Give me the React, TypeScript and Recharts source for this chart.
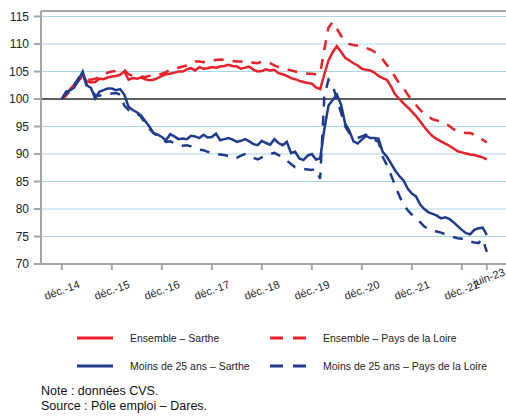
import * as React from "react";
import {
  LineChart,
  Line,
  XAxis,
  YAxis,
  CartesianGrid,
  ReferenceLine,
} from "recharts";

// indices 100 = déc. 2014, une valeur par mois (déc.-14 -> juin-23)
const ensembleSarthe = [
  100.0, 100.8, 101.8, 102.6, 103.5, 104.3, 103.2, 103.0, 103.1, 103.7, 103.6, 103.9,
  104.1, 104.2, 104.4, 105.0, 103.5, 103.8, 103.7, 103.9, 103.6, 103.4, 103.5, 103.8,
  104.2, 104.5, 104.6, 104.8, 105.0, 105.0, 105.4, 105.6, 105.2, 105.8, 105.5, 105.6,
  105.8, 105.7, 105.9, 106.0, 106.2, 106.0, 105.9, 105.5, 105.7, 105.9, 105.3, 105.0,
  105.1, 105.4, 105.2, 105.3, 104.7, 104.5, 104.2, 103.8, 103.6, 103.3, 103.1, 102.9,
  102.8, 102.1, 101.8, 104.5, 107.0, 108.5, 109.6, 108.6, 107.5, 107.0, 106.5, 106.1,
  105.5, 105.3, 105.2, 104.8, 104.2, 103.8, 103.5, 102.3, 100.8, 100.0, 99.2, 98.5,
  97.7, 96.9, 95.9, 94.9, 94.0, 93.2, 92.7, 92.3, 91.9, 91.5, 91.0, 90.5,
  90.3, 90.1, 89.9, 89.8, 89.6, 89.4, 89.0,
];

const ensemblePdl = [
  100.0, 100.6, 101.5, 102.4, 103.3, 104.2, 103.6, 103.5, 103.7, 104.0, 104.3, 104.8,
  105.0, 105.1, 105.4, 105.3, 104.5, 104.2, 104.3, 104.1, 104.0, 104.2, 104.4, 104.4,
  104.6, 104.9, 105.3, 105.6, 105.7, 105.9, 106.1, 106.5, 106.8, 106.8, 106.7, 106.9,
  107.0, 107.1, 107.2, 107.1, 107.0, 106.9, 106.8, 106.8, 106.9, 106.7, 106.6, 106.5,
  106.8, 106.7, 106.5, 106.1, 105.8, 105.6, 105.4, 105.2, 105.0, 104.8, 104.7, 104.6,
  104.6, 104.5, 104.6, 109.0, 113.0, 114.0, 112.8, 111.5, 110.4, 110.0, 109.8, 109.7,
  109.5, 109.3, 109.0, 108.6, 108.0, 107.2, 106.2, 105.2, 104.0, 102.8, 102.0, 100.8,
  99.8, 98.9, 98.0, 97.3, 96.8, 96.3, 96.1, 95.9, 95.6, 95.1, 94.5, 94.2,
  94.0, 93.8, 93.8, 93.5, 93.1, 92.6, 92.1,
];

const jeunesSarthe = [
  100.0, 101.0, 101.6, 102.1, 103.5, 105.0, 102.5, 102.0, 100.1, 101.3, 101.6, 101.9,
  101.9, 101.6, 101.8, 100.8, 98.6, 98.0, 97.6, 97.0, 96.0, 95.0, 93.8, 93.5,
  93.1, 92.5, 93.6, 93.2, 92.7, 92.8, 92.7, 93.3, 93.2, 92.9, 93.5, 93.0,
  93.1, 93.7, 92.5, 92.7, 92.9, 92.6, 92.2, 92.4, 92.7, 92.3, 91.8, 91.6,
  92.4, 92.0, 91.7, 92.7, 92.0, 91.6, 92.2, 90.2, 90.4, 89.2, 88.9, 89.7,
  90.0, 89.0, 89.2, 94.5, 98.8, 99.8, 100.8, 99.0, 95.5, 94.2, 92.3, 91.9,
  92.6, 93.3, 92.9, 92.9, 92.8, 90.4, 89.5, 88.3, 87.0, 86.0, 85.2, 83.7,
  82.8, 82.3, 80.8, 80.0, 79.4, 79.1, 78.8, 78.3, 78.5, 78.2, 77.6, 76.9,
  76.2, 75.6, 75.4, 76.2, 76.5, 76.6, 75.3,
];

const jeunesPdl = [
  100.0, 101.3, 102.0, 102.6, 103.8, 104.8, 102.2, 101.6, 100.7, 100.6, 100.8, 100.9,
  101.0, 101.1, 100.8, 98.8, 98.0, 97.7, 97.4, 96.8, 95.5, 94.6, 93.8, 93.3,
  92.8, 92.2, 92.3, 92.0, 91.7, 91.5, 91.6, 91.4, 91.0, 90.8, 90.7, 90.4,
  90.2, 90.0, 89.9, 89.8, 89.6, 89.2, 89.3, 89.7, 90.0, 89.7, 89.3, 89.0,
  89.4, 89.8, 90.0, 90.2, 89.8, 89.5, 88.8, 88.2, 87.6, 87.5, 87.3, 87.2,
  87.1, 87.3, 85.5, 100.5, 103.5, 102.5, 100.0, 97.5, 95.0, 93.8, 93.3, 92.9,
  93.2, 93.5, 93.0, 92.6, 92.2, 89.5, 88.0, 86.2, 84.2, 82.4, 80.8, 79.8,
  79.0, 78.3, 77.6, 76.8, 76.4, 76.0, 75.9, 75.7, 75.4, 75.2, 74.9, 74.7,
  74.6, 74.4, 74.1, 73.9, 73.8, 74.6, 72.2,
];

const tickMonths = [0, 12, 24, 36, 48, 60, 72, 84, 96, 102];
const tickLabels = [
  "déc.-14", "déc.-15", "déc.-16", "déc.-17", "déc.-18",
  "déc.-19", "déc.-20", "déc.-21", "déc.-22", "juin-23",
];
const yTicks = [70, 75, 80, 85, 90, 95, 100, 105, 110, 115];

const series = [
  { key: "ensembleSarthe", name: "Ensemble – Sarthe", color: "#e8202a", dash: undefined },
  { key: "ensemblePdl", name: "Ensemble – Pays de la Loire", color: "#e8202a", dash: "10 9" },
  { key: "jeunesSarthe", name: "Moins de 25 ans – Sarthe", color: "#1f3b8e", dash: undefined },
  { key: "jeunesPdl", name: "Moins de 25 ans – Pays de la Loire", color: "#1f3b8e", dash: "10 9" },
];

const data = ensembleSarthe.map((v, i) => ({
  m: i,
  ensembleSarthe: v,
  ensemblePdl: ensemblePdl[i],
  jeunesSarthe: jeunesSarthe[i],
  jeunesPdl: jeunesPdl[i],
}));

const font = 'Arial, "Liberation Sans", sans-serif';

const XTick = (props: any) => {
  const { x, y, payload } = props;
  const idx = tickMonths.indexOf(payload.value);
  const last = idx === tickMonths.length - 1;
  // le dernier libellé est remonté pour ne pas chevaucher déc.-22
  const cx = x + (last ? 2 : 0);
  const cy = y + 18 - (last ? 13 : 0);
  return (
    <text
      x={cx}
      y={cy}
      textAnchor="middle"
      dominantBaseline="central"
      transform={`rotate(-20 ${cx} ${cy})`}
      fontSize={11}
      fontFamily={font}
      fill="#222"
    >
      {tickLabels[idx]}
    </text>
  );
};

const LegendItem = ({ s, left, top }: any) => (
  <div style={{ position: "absolute", left, top, height: 14, display: "flex", alignItems: "center" }}>
    <svg width={40} height={6} style={{ display: "block" }}>
      <line x1={0} y1={3} x2={36} y2={3} stroke={s.color} strokeWidth={3} strokeDasharray={s.dash ? "13 10" : undefined} />
    </svg>
    <span style={{ marginLeft: 13, fontSize: 10.5, color: "#222", whiteSpace: "nowrap" }}>{s.name}</span>
  </div>
);

export default function App() {
  return (
    <div
      style={{
        position: "absolute",
        left: 0,
        top: 0,
        width: 506,
        height: 416,
        overflow: "hidden",
        background: "#fff",
        fontFamily: font,
      }}
    >
      <LineChart
        width={520}
        height={310}
        data={data}
        margin={{ top: 11, right: 4, left: 0, bottom: 6 }}
      >
        <CartesianGrid horizontal vertical={false} stroke="#a8d7ea" strokeWidth={1} />
        <XAxis
          dataKey="m"
          type="number"
          domain={[-5, 109]}
          ticks={tickMonths}
          interval={0}
          height={40}
          tickSize={6}
          axisLine={{ stroke: "#a6a6a6", strokeWidth: 2 }}
          tickLine={{ stroke: "#a6a6a6", strokeWidth: 2 }}
          tick={<XTick />}
        />
        <YAxis
          type="number"
          domain={[70, 116]}
          ticks={yTicks}
          interval={0}
          width={41}
          tickSize={7}
          tickMargin={5}
          axisLine={{ stroke: "#a6a6a6", strokeWidth: 2 }}
          tickLine={{ stroke: "#a6a6a6", strokeWidth: 2 }}
          tick={{ fontSize: 12, fill: "#222", fontFamily: font }}
        />
        <ReferenceLine y={116} stroke="#a6a6a6" strokeWidth={2} />
        <ReferenceLine y={100} stroke="#333" strokeWidth={1.5} />
        {series.map((s) => (
          <Line
            key={s.key}
            dataKey={s.key}
            name={s.name}
            type="linear"
            stroke={s.color}
            strokeWidth={2.5}
            strokeDasharray={s.dash}
            dot={false}
            isAnimationActive={false}
          />
        ))}
      </LineChart>
      <LegendItem s={series[0]} left={77} top={331} />
      <LegendItem s={series[1]} left={270} top={331} />
      <LegendItem s={series[2]} left={77} top={359} />
      <LegendItem s={series[3]} left={270} top={359} />
      <div style={{ position: "absolute", left: 41, top: 384, fontSize: 12.5, lineHeight: "15px", color: "#111" }}>
        Note : données CVS.
        <br />
        Source : Pôle emploi – Dares.
      </div>
    </div>
  );
}
